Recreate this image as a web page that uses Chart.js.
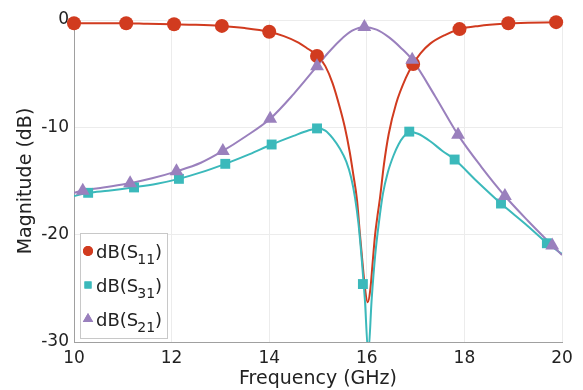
<!DOCTYPE html>
<html>
<head>
<meta charset="utf-8">
<script src="https://cdn.jsdelivr.net/npm/chart.js@4"></script>
<style>
  html, body { margin: 0; padding: 0; background: #fff; }
  #wrap { width: 583px; height: 390px; }
</style>
</head>
<body>
<div id="wrap"><canvas id="chart" width="583" height="390"></canvas></div>
<script>
// Series names (subscript part of dB(Sxx))
const seriesSubs = ['11', '31', '21'];

// S11 smooth curve
const s11Freq = [10, 10.5, 11, 11.5, 12, 12.5, 13, 13.5, 14, 14.3, 14.6, 14.8, 15, 15.15, 15.3, 15.45, 15.55, 15.65, 15.72, 15.8, 15.86, 15.92, 15.97, 16.02, 16.07, 16.12, 16.17, 16.22, 16.27, 16.35, 16.45, 16.6, 16.8, 16.95, 17.1, 17.3, 17.6, 17.9, 18.3, 18.8, 19.3, 19.9, 20];
const s11Line = [-0.3, -0.3, -0.3, -0.35, -0.4, -0.45, -0.55, -0.75, -1.1, -1.5, -2.1, -2.7, -3.35, -4.3, -5.9, -8.2, -10, -12.3, -14.3, -16.8, -20, -23, -25.3, -26.3, -25.2, -22.6, -20, -18.2, -16.6, -13.5, -10.6, -7.8, -5.4, -4.1, -3.1, -2.2, -1.4, -0.85, -0.55, -0.35, -0.25, -0.2, -0.2];
// S11 markers
const s11MarkFreq = [10.0, 11.07, 12.05, 13.03, 14.0, 14.98, 16.95, 17.9, 18.9, 19.88];
const s11Mark = [-0.3, -0.3, -0.4, -0.55, -1.1, -3.35, -4.1, -0.85, -0.3, -0.2];

// S31 smooth curve
const s31Freq = [10, 10.3, 10.7, 11.2, 11.7, 12.15, 12.6, 13.1, 13.6, 14.05, 14.5, 14.8, 15, 15.15, 15.3, 15.45, 15.58, 15.68, 15.76, 15.83, 15.9, 15.96, 16.03, 16.1, 16.17, 16.25, 16.33, 16.43, 16.55, 16.65, 16.75, 16.87, 17.05, 17.3, 17.55, 17.8, 18.25, 18.75, 19.25, 19.7, 20];
const s31Line = [-16.4, -16.1, -15.9, -15.6, -15.25, -14.8, -14.2, -13.4, -12.5, -11.6, -10.8, -10.3, -10.1, -10.3, -11.0, -12.0, -13.2, -14.7, -16.6, -19, -22.5, -26, -31, -26, -22, -18.8, -16.2, -14.2, -12.6, -11.6, -10.9, -10.4, -10.6, -11.3, -12.2, -13.0, -15.0, -17.1, -19.0, -20.8, -21.8];
// S31 markers
const s31MarkFreq = [10.29, 11.23, 12.15, 13.1, 14.05, 14.98, 15.92, 16.87, 17.8, 18.75, 19.69];
const s31Mark = [-16.1, -15.6, -14.8, -13.4, -11.6, -10.1, -24.6, -10.4, -13.0, -17.1, -20.8];

// S21 smooth curve
const s21Freq = [10, 10.18, 10.6, 11.15, 11.6, 12.1, 12.6, 13.05, 13.5, 14.02, 14.5, 14.98, 15.2, 15.45, 15.7, 15.95, 16.2, 16.45, 16.7, 16.93, 17.4, 17.87, 18.35, 18.83, 19.3, 19.8, 20];
const s21Line = [-16.1, -15.9, -15.6, -15.2, -14.75, -14.1, -13.3, -12.2, -10.9, -9.2, -6.9, -4.3, -3.1, -1.9, -1.0, -0.65, -0.9, -1.6, -2.6, -3.7, -7.1, -10.7, -13.7, -16.4, -18.7, -21.0, -21.9];
// S21 markers
const s21MarkFreq = [10.18, 11.15, 12.1, 13.05, 14.02, 14.98, 15.95, 16.93, 17.87, 18.83, 19.8];
const s21Mark = [-15.9, -15.2, -14.1, -12.2, -9.2, -4.3, -0.65, -3.7, -10.7, -16.4, -21.0];

// Axis ticks
const xTicks = [10, 12, 14, 16, 18, 20];
const yTicks = [-30, -20, -10, 0];

const RED = '#d13b1f';
const TEAL = '#3bb9bb';
const PURPLE = '#9a80bd';
const FONT = '"DejaVu Sans", Verdana, sans-serif';

function pts(xs, ys) {
    return xs.map((x, i) => ({ x: x, y: ys[i] }));
}

function lineSet(xs, ys, color, order) {
    return {
        data: pts(xs, ys),
        borderColor: color,
        borderWidth: 2,
        pointRadius: 0,
        cubicInterpolationMode: 'monotone',
        showLine: true,
        order: order
    };
}

function markSet(xs, ys, color, style, radius, order) {
    return {
        data: pts(xs, ys),
        showLine: false,
        pointStyle: style,
        pointRadius: radius,
        pointBackgroundColor: color,
        pointBorderColor: color,
        pointBorderWidth: 0,
        clip: false,
        order: order
    };
}

// Legend with subscripts, drawn on the canvas
const subLegend = {
    id: 'subLegend',
    afterDatasetsDraw(chart) {
        const ctx = chart.ctx;
        const a = chart.chartArea;
        const left = a.left + 6, top = a.bottom - 109, w = 87, h = 105;
        ctx.save();
        ctx.fillStyle = '#fff';
        ctx.strokeStyle = '#c8c8c8';
        ctx.lineWidth = 1;
        ctx.fillRect(left, top, w, h);
        ctx.strokeRect(left + 0.5, top + 0.5, w, h);

        const colors = [RED, TEAL, PURPLE];
        const styles = ['circle', 'rect', 'triangle'];
        const radii = [5, 5, 6];
        seriesSubs.forEach((sub, i) => {
            const cy = top + 18 + i * 34;
            const mx = left + 8;
            ctx.fillStyle = colors[i];
            ctx.strokeStyle = colors[i];
            Chart.helpers.drawPoint(ctx, {
                pointStyle: styles[i], radius: radii[i], borderWidth: 0
            }, mx, cy);
            ctx.fill();

            ctx.fillStyle = '#222';
            ctx.textBaseline = 'alphabetic';
            ctx.font = '18px ' + FONT;
            let x = left + 16;
            const base = cy + 6.5;
            ctx.fillText('dB(S', x, base);
            x += ctx.measureText('dB(S').width - 1;
            ctx.font = '14px ' + FONT;
            ctx.fillText(sub, x, base + 6);
            x += ctx.measureText(sub).width;
            ctx.font = '18px ' + FONT;
            ctx.fillText(')', x, base);
        });
        ctx.restore();
    }
};

new Chart(document.getElementById('chart'), {
    type: 'scatter',
    data: {
        datasets: [
            markSet(s21MarkFreq, s21Mark, PURPLE, 'triangle', 8, 0),
            markSet(s31MarkFreq, s31Mark, TEAL, 'rect', 7, 1),
            markSet(s11MarkFreq, s11Mark, RED, 'circle', 7, 2),
            lineSet(s21Freq, s21Line, PURPLE, 3),
            lineSet(s31Freq, s31Line, TEAL, 4),
            lineSet(s11Freq, s11Line, RED, 5)
        ]
    },
    options: {
        responsive: false,
        animation: false,
        layout: { padding: { left: 0, right: 21, top: 20, bottom: 0 } },
        plugins: {
            legend: { display: false },
            tooltip: { enabled: false }
        },
        scales: {
            x: {
                type: 'linear',
                min: 10,
                max: 20,
                afterFit: s => { s.height = 48; },
                afterBuildTicks: s => { s.ticks = xTicks.map(v => ({ value: v })); },
                grid: { color: '#ececec', drawTicks: false },
                border: { color: '#a0a0a0', width: 1 },
                ticks: { color: '#222', font: { family: FONT, size: 17 }, padding: 6 },
                title: {
                    display: true,
                    text: 'Frequency (GHz)',
                    color: '#222',
                    font: { family: FONT, size: 19 },
                    padding: { top: 0, bottom: 0 }
                }
            },
            y: {
                type: 'linear',
                min: -30,
                max: 0,
                afterFit: s => { s.width = 74; },
                afterBuildTicks: s => { s.ticks = yTicks.map(v => ({ value: v })); },
                grid: { color: '#ececec', drawTicks: false },
                border: { color: '#a0a0a0', width: 1 },
                ticks: { color: '#222', font: { family: FONT, size: 17 }, padding: 5 },
                title: {
                    display: true,
                    text: 'Magnitude (dB)',
                    color: '#222',
                    font: { family: FONT, size: 19 },
                    padding: { top: 15, bottom: 0 }
                }
            }
        }
    },
    plugins: [subLegend]
});
</script>
</body>
</html>
